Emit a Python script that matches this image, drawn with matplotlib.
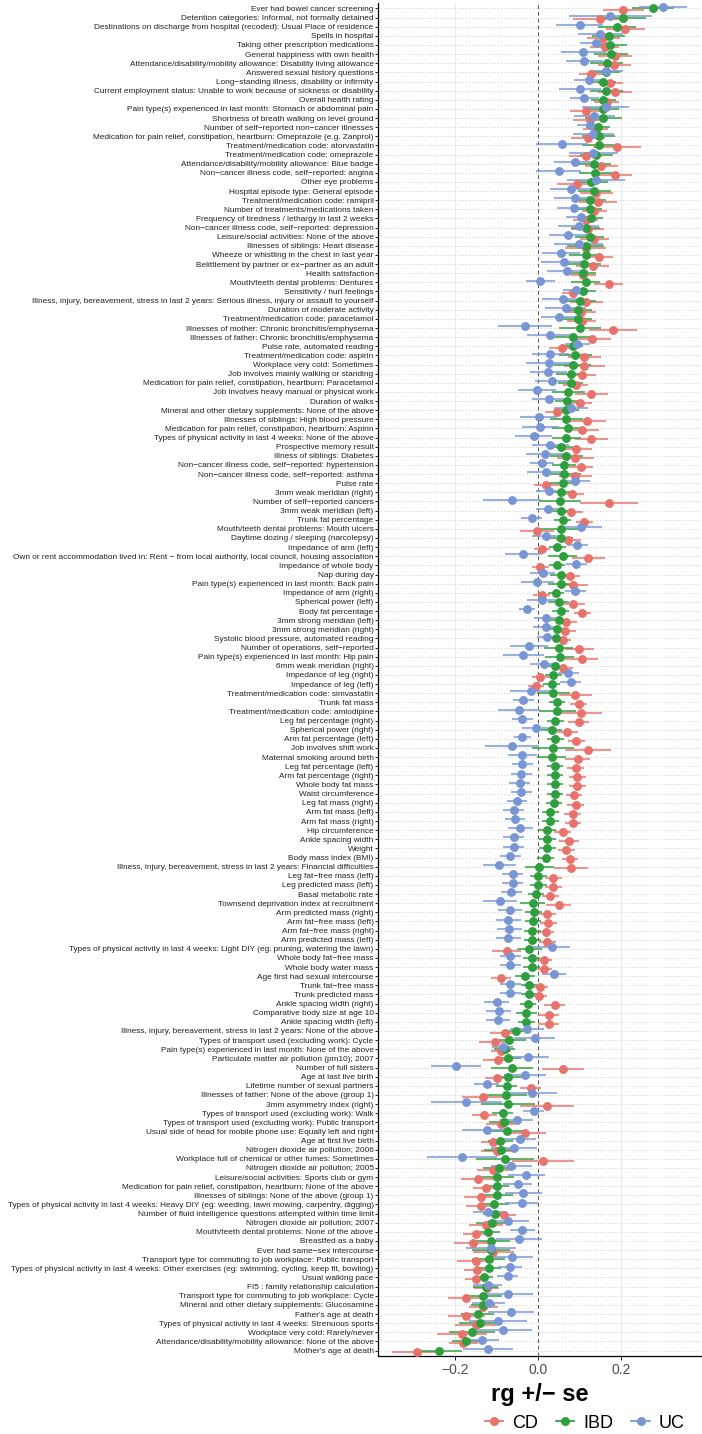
import numpy as np
import matplotlib
matplotlib.use("Agg")
import matplotlib.pyplot as plt
from matplotlib.lines import Line2D

# traits, top to bottom as they appear on the chart
traits = [
    "Ever had bowel cancer screening",
    "Detention categories: Informal, not formally detained",
    "Destinations on discharge from hospital (recoded): Usual Place of residence",
    "Spells in hospital",
    "Taking other prescription medications",
    "General happiness with own health",
    "Attendance/disability/mobility allowance: Disability living allowance",
    "Answered sexual history questions",
    "Long−standing illness, disability or infirmity",
    "Current employment status: Unable to work because of sickness or disability",
    "Overall health rating",
    "Pain type(s) experienced in last month: Stomach or abdominal pain",
    "Shortness of breath walking on level ground",
    "Number of self−reported non−cancer illnesses",
    "Medication for pain relief, constipation, heartburn: Omeprazole (e.g. Zanprol)",
    "Treatment/medication code: atorvastatin",
    "Treatment/medication code: omeprazole",
    "Attendance/disability/mobility allowance: Blue badge",
    "Non−cancer illness code, self−reported: angina",
    "Other eye problems",
    "Hospital episode type: General episode",
    "Treatment/medication code: ramipril",
    "Number of treatments/medications taken",
    "Frequency of tiredness / lethargy in last 2 weeks",
    "Non−cancer illness code, self−reported: depression",
    "Leisure/social activities: None of the above",
    "Illnesses of siblings: Heart disease",
    "Wheeze or whistling in the chest in last year",
    "Belittlement by partner or ex−partner as an adult",
    "Health satisfaction",
    "Mouth/teeth dental problems: Dentures",
    "Sensitivity / hurt feelings",
    "Illness, injury, bereavement, stress in last 2 years: Serious illness, injury or assault to yourself",
    "Duration of moderate activity",
    "Treatment/medication code: paracetamol",
    "Illnesses of mother: Chronic bronchitis/emphysema",
    "Illnesses of father: Chronic bronchitis/emphysema",
    "Pulse rate, automated reading",
    "Treatment/medication code: aspirin",
    "Workplace very cold: Sometimes",
    "Job involves mainly walking or standing",
    "Medication for pain relief, constipation, heartburn: Paracetamol",
    "Job involves heavy manual or physical work",
    "Duration of walks",
    "Mineral and other dietary supplements: None of the above",
    "Illnesses of siblings: High blood pressure",
    "Medication for pain relief, constipation, heartburn: Aspirin",
    "Types of physical activity in last 4 weeks: None of the above",
    "Prospective memory result",
    "Illness of siblings: Diabetes",
    "Non−cancer illness code, self−reported: hypertension",
    "Non−cancer illness code, self−reported: asthma",
    "Pulse rate",
    "3mm weak meridian (right)",
    "Number of self−reported cancers",
    "3mm weak meridian (left)",
    "Trunk fat percentage",
    "Mouth/teeth dental problems: Mouth ulcers",
    "Daytime dozing / sleeping (narcolepsy)",
    "Impedance of arm (left)",
    "Own or rent accommodation lived in: Rent − from local authority, local council, housing association",
    "Impedance of whole body",
    "Nap during day",
    "Pain type(s) experienced in last month: Back pain",
    "Impedance of arm (right)",
    "Spherical power (left)",
    "Body fat percentage",
    "3mm strong meridian (left)",
    "3mm strong meridian (right)",
    "Systolic blood pressure, automated reading",
    "Number of operations, self−reported",
    "Pain type(s) experienced in last month: Hip pain",
    "6mm weak meridian (right)",
    "Impedance of leg (right)",
    "Impedance of leg (left)",
    "Treatment/medication code: simvastatin",
    "Trunk fat mass",
    "Treatment/medication code: amlodipine",
    "Leg fat percentage (right)",
    "Spherical power (right)",
    "Arm fat percentage (left)",
    "Job involves shift work",
    "Maternal smoking around birth",
    "Leg fat percentage (left)",
    "Arm fat percentage (right)",
    "Whole body fat mass",
    "Waist circumference",
    "Leg fat mass (right)",
    "Arm fat mass (left)",
    "Arm fat mass (right)",
    "Hip circumference",
    "Ankle spacing width",
    "Weight",
    "Body mass index (BMI)",
    "Illness, injury, bereavement, stress in last 2 years: Financial difficulties",
    "Leg fat−free mass (left)",
    "Leg predicted mass (left)",
    "Basal metabolic rate",
    "Townsend deprivation index at recruitment",
    "Arm predicted mass (right)",
    "Arm fat−free mass (left)",
    "Arm fat−free mass (right)",
    "Arm predicted mass (left)",
    "Types of physical activity in last 4 weeks: Light DIY (eg: pruning, watering the lawn)",
    "Whole body fat−free mass",
    "Whole body water mass",
    "Age first had sexual intercourse",
    "Trunk fat−free mass",
    "Trunk predicted mass",
    "Ankle spacing width (right)",
    "Comparative body size at age 10",
    "Ankle spacing width (left)",
    "Illness, injury, bereavement, stress in last 2 years: None of the above",
    "Types of transport used (excluding work): Cycle",
    "Pain type(s) experienced in last month: None of the above",
    "Particulate matter air pollution (pm10); 2007",
    "Number of full sisters",
    "Age at last live birth",
    "Lifetime number of sexual partners",
    "Illnesses of father: None of the above (group 1)",
    "3mm asymmetry index (right)",
    "Types of transport used (excluding work): Walk",
    "Types of transport used (excluding work): Public transport",
    "Usual side of head for mobile phone use: Equally left and right",
    "Age at first live birth",
    "Nitrogen dioxide air pollution; 2006",
    "Workplace full of chemical or other fumes: Sometimes",
    "Nitrogen dioxide air pollution; 2005",
    "Leisure/social activities: Sports club or gym",
    "Medication for pain relief, constipation, heartburn: None of the above",
    "Illnesses of siblings: None of the above (group 1)",
    "Types of physical activity in last 4 weeks: Heavy DIY (eg: weeding, lawn mowing, carpentry, digging)",
    "Number of fluid intelligence questions attempted within time limit",
    "Nitrogen dioxide air pollution; 2007",
    "Mouth/teeth dental problems: None of the above",
    "Breastfed as a baby",
    "Ever had same−sex intercourse",
    "Transport type for commuting to job workplace: Public transport",
    "Types of physical activity in last 4 weeks: Other exercises (eg: swimming, cycling, keep fit, bowling)",
    "Usual walking pace",
    "FI5 : family relationship calculation",
    "Transport type for commuting to job workplace: Cycle",
    "Mineral and other dietary supplements: Glucosamine",
    "Father's age at death",
    "Types of physical activity in last 4 weeks: Strenuous sports",
    "Workplace very cold: Rarely/never",
    "Attendance/disability/mobility allowance: None of the above",
    "Mother's age at death",
]

cd_rg = [
    0.205, 0.149, 0.21, 0.157, 0.16, 0.185, 0.183, 0.128, 0.173, 0.185, 0.165, 0.116,
    0.124, 0.137, 0.12, 0.19, 0.114, 0.152, 0.186, 0.094, 0.14, 0.144, 0.135, 0.114,
    0.119, 0.135, 0.114, 0.146, 0.131, 0.108, 0.17, 0.083, 0.116, 0.103, 0.105, 0.18,
    0.13, 0.057, 0.111, 0.111, 0.105, 0.09, 0.128, 0.10, 0.046, 0.117, 0.106, 0.128,
    0.09, 0.089, 0.103, 0.089, 0.019, 0.081, 0.17, 0.078, 0.111, -0.003, 0.072, 0.009, 0.121, 0.005,
    0.076, 0.084, 0.008, 0.083, 0.106, 0.068, 0.065, 0.059, 0.099, 0.105, 0.059, 0.005, -0.005,
    0.089, 0.097, 0.103, 0.097, 0.07, 0.092, 0.12, 0.095, 0.09, 0.094, 0.094, 0.086, 0.09,
    0.083, 0.084, 0.059, 0.074, 0.068, 0.076, 0.079, 0.036, 0.036, 0.029, 0.049, 0.022, 0.024,
    0.018, 0.022, -0.076, 0.014, 0.014, -0.09, 0.003, 0.002, 0.04, 0.025, 0.025, -0.081, -0.103,
    -0.09, -0.097, 0.059, -0.099, -0.018, -0.133, 0.022, -0.13, -0.09, -0.032, -0.108, -0.099, 0.011,
    -0.108, -0.146, -0.126, -0.138, -0.138, -0.083, -0.126, -0.151, -0.157, -0.108, -0.151, -0.148, -0.151,
    -0.124, -0.173, -0.133, -0.173, -0.151, -0.184, -0.181, -0.292,
]
cd_se = [
    .05, .065, .047, .04, .035, .04, .04, .03, .03, .04, .03, .04,
    .04, .03, .04, .057, .04, .04, .04, .05, .04, .045, .03, .03,
    .04, .035, .05, .035, .04, .03, .035, .025, .04, .035, .035, .057,
    .045, .03, .04, .05, .035, .03, .04, .03, .03, .045, .04, .04,
    .04, .045, .03, .04, .03, .03, .07, .03, .02, .04, .03, .02, .04, .02,
    .025, .035, .02, .03, .02, .025, .025, .02, .035, .04, .025, .02, .02,
    .04, .02, .05, .025, .025, .02, .055, .03, .02, .02, .02, .02, .02,
    .02, .02, .02, .025, .02, .02, .04, .02, .02, .02, .03, .02, .02,
    .02, .02, .035, .02, .02, .025, .02, .02, .025, .025, .025, .035, .04,
    .025, .035, .05, .03, .025, .05, .065, .03, .035, .05, .03, .04, .075,
    .04, .04, .03, .04, .035, .03, .04, .03, .045, .05, .045, .03, .025,
    .03, .045, .035, .045, .05, .06, .035, .06,
]

ibd_rg = [
    0.276, 0.205, 0.19, 0.17, 0.173, 0.175, 0.165, 0.162, 0.157, 0.164, 0.157, 0.155,
    0.157, 0.144, 0.146, 0.146, 0.14, 0.135, 0.137, 0.128, 0.135, 0.124, 0.124, 0.126,
    0.114, 0.124, 0.114, 0.114, 0.11, 0.108, 0.114, 0.108, 0.10, 0.095, 0.095, 0.10,
    0.083, 0.083, 0.089, 0.083, 0.078, 0.078, 0.072, 0.07, 0.068, 0.068, 0.072, 0.067,
    0.054, 0.068, 0.062, 0.062, 0.059, 0.054, 0.052, 0.054, 0.059, 0.054, 0.054, 0.046, 0.059, 0.045,
    0.054, 0.054, 0.043, 0.049, 0.054, 0.049, 0.044, 0.043, 0.049, 0.052, 0.04, 0.036, 0.032,
    0.036, 0.045, 0.046, 0.041, 0.032, 0.041, 0.036, 0.032, 0.04, 0.04, 0.04, 0.04, 0.038,
    0.029, 0.029, 0.022, 0.022, 0.022, 0.018, 0.002, 0.0, 0.0, -0.005, -0.013, -0.011, -0.013,
    -0.014, -0.014, -0.022, -0.016, -0.016, -0.032, -0.022, -0.022, -0.025, -0.029, -0.029, -0.054, -0.07,
    -0.081, -0.072, -0.063, -0.072, -0.076, -0.078, -0.072, -0.086, -0.083, -0.076, -0.092, -0.09, -0.081,
    -0.094, -0.099, -0.1, -0.1, -0.106, -0.103, -0.111, -0.122, -0.114, -0.114, -0.119, -0.119, -0.13,
    -0.126, -0.133, -0.133, -0.146, -0.141, -0.16, -0.173, -0.238,
]
ibd_se = [
    .05, .055, .045, .04, .04, .04, .04, .035, .03, .04, .03, .04,
    .045, .03, .04, .04, .04, .04, .04, .04, .04, .04, .03, .03,
    .035, .035, .045, .04, .04, .03, .035, .03, .04, .035, .035, .05,
    .045, .025, .04, .045, .035, .03, .04, .03, .03, .04, .04, .035,
    .03, .04, .03, .04, .03, .03, .05, .025, .02, .05, .03, .02, .035, .02,
    .025, .03, .02, .025, .02, .025, .025, .02, .035, .035, .025, .02, .02,
    .04, .02, .045, .02, .025, .02, .05, .035, .02, .02, .02, .02, .02,
    .02, .02, .02, .02, .02, .02, .035, .02, .02, .02, .03, .02, .02,
    .02, .02, .03, .02, .02, .025, .02, .02, .02, .025, .02, .03, .04,
    .025, .03, .05, .035, .025, .05, .065, .025, .035, .045, .03, .04, .07,
    .04, .04, .03, .04, .035, .03, .04, .03, .045, .045, .04, .03, .02,
    .03, .045, .03, .04, .05, .055, .035, .055,
]

uc_rg = [
    0.30, 0.173, 0.10, 0.149, 0.14, 0.108, 0.111, 0.164, 0.122, 0.10, 0.111, 0.162,
    0.135, 0.124, 0.133, 0.057, 0.133, 0.089, 0.049, 0.14, 0.079, 0.088, 0.086, 0.103,
    0.097, 0.072, 0.097, 0.055, 0.062, 0.07, 0.005, 0.09, 0.059, 0.066, 0.051, -0.032,
    0.029, 0.094, 0.029, 0.025, 0.024, 0.032, -0.003, 0.025, 0.079, 0.001, 0.005, -0.011,
    0.029, 0.016, 0.009, 0.019, 0.089, 0.025, -0.063, 0.024, -0.016, 0.103, 0.019, 0.094, -0.036, 0.092,
    0.011, -0.002, 0.089, 0.008, -0.027, 0.019, 0.018, 0.022, -0.022, -0.036, 0.014, 0.072, 0.078,
    -0.018, -0.036, -0.046, -0.038, -0.005, -0.038, -0.063, -0.038, -0.038, -0.041, -0.045, -0.041, -0.051,
    -0.059, -0.056, -0.043, -0.059, -0.059, -0.067, -0.094, -0.062, -0.062, -0.065, -0.092, -0.068, -0.072,
    -0.07, -0.072, 0.032, -0.067, -0.067, 0.038, -0.067, -0.067, -0.1, -0.095, -0.097, -0.027, -0.009,
    -0.086, -0.024, -0.198, -0.032, -0.124, -0.014, -0.173, -0.011, -0.052, -0.124, -0.045, -0.059, -0.184,
    -0.065, -0.029, -0.049, -0.036, -0.04, -0.121, -0.072, -0.038, -0.046, -0.114, -0.063, -0.068, -0.074,
    -0.122, -0.072, -0.119, -0.065, -0.097, -0.084, -0.135, -0.122,
]
uc_se = [
    .058, .1, .057, .054, .04, .054, .045, .04, .035, .05, .035, .057,
    .05, .03, .05, .063, .06, .05, .054, .07, .05, .05, .04, .035,
    .05, .045, .06, .045, .055, .05, .035, .03, .05, .05, .045, .065,
    .055, .03, .045, .055, .045, .04, .045, .04, .04, .045, .045, .045,
    .045, .045, .03, .045, .035, .03, .07, .03, .025, .05, .035, .025, .045, .025,
    .03, .04, .025, .035, .02, .03, .03, .025, .045, .05, .035, .025, .025,
    .05, .025, .05, .025, .035, .02, .065, .035, .025, .025, .025, .025, .025,
    .025, .025, .03, .025, .025, .025, .04, .025, .025, .025, .04, .03, .03,
    .03, .03, .045, .025, .025, .03, .025, .025, .03, .03, .03, .04, .05,
    .025, .05, .06, .05, .03, .06, .085, .025, .04, .06, .04, .055, .085,
    .05, .045, .035, .045, .04, .035, .05, .03, .055, .06, .05, .03, .025,
    .035, .06, .04, .055, .07, .07, .04, .06,
]

groups = ["CD", "IBD", "UC"]
colors = {"CD": "#E8726C", "IBD": "#2E9E3E", "UC": "#7896D4"}
offsets = {"CD": -0.2, "IBD": 0.0, "UC": 0.2}
series = {"CD": (cd_rg, cd_se), "IBD": (ibd_rg, ibd_se), "UC": (uc_rg, uc_se)}

plt.rcParams["font.family"] = ["Liberation Sans", "DejaVu Sans"]

W, H = 702, 1434
fig = plt.figure(figsize=(W / 100, H / 100), dpi=100)
ax = fig.add_axes([378 / W, 1 - 1356 / H, (701 - 378) / W, (1356 - 3) / H])

n = len(traits)
ypos = np.arange(n)[::-1]

# background guides
ax.set_axisbelow(True)
ax.grid(axis="y", linestyle=(0, (1, 2.5)), color="#BDBDBD", linewidth=0.6)
for xv in (-0.2, 0.2):
    ax.axvline(xv, color="#EBEBEB", linewidth=0.8, zorder=0)
ax.axvline(0, color="#555555", linewidth=0.7, linestyle=(0, (4, 3)), zorder=1)

# error bars first, then the points
for g in groups:
    rg, se = np.array(series[g][0]), np.array(series[g][1])
    ax.hlines(ypos + offsets[g], rg - se, rg + se, color=colors[g],
              alpha=0.75, linewidth=1.5, zorder=2)
for g in groups:
    rg = np.array(series[g][0])
    ax.plot(rg, ypos + offsets[g], "o", ms=6.4, color=colors[g],
            markeredgewidth=0, zorder=3)

ax.set_xlim(-0.386, 0.392)
ax.set_ylim(-0.6, n - 1 + 0.6)
ax.set_yticks(ypos)
ax.set_yticklabels(traits, fontsize=5.95, color="#222222")
ax.tick_params(axis="y", length=2, width=0.6, pad=1.2)
ax.set_xticks([-0.2, 0.0, 0.2])
ax.set_xticklabels(["−0.2", "0.0", "0.2"], fontsize=10, color="#4D4D4D")
ax.tick_params(axis="x", length=3, width=0.6, pad=2)

for side in ("top", "right"):
    ax.spines[side].set_visible(False)
for side in ("left", "bottom"):
    ax.spines[side].set_linewidth(0.9)

fig.text(539.5 / W, 1 - 1395 / H, "rg +/− se", fontsize=17, fontweight="bold",
         ha="center", va="center")

handles = [Line2D([0], [0], color=colors[g], marker="o", ms=6.5, lw=1.3,
                  markeredgewidth=0) for g in groups]
fig.legend(handles, groups, ncol=3, frameon=False, fontsize=13,
           loc="center right", bbox_to_anchor=(0.975, 1 - 1423 / H),
           handlelength=1.0, handletextpad=0.5, columnspacing=1.0,
           borderaxespad=0, borderpad=0)

fig.savefig("out.png", dpi=100)
